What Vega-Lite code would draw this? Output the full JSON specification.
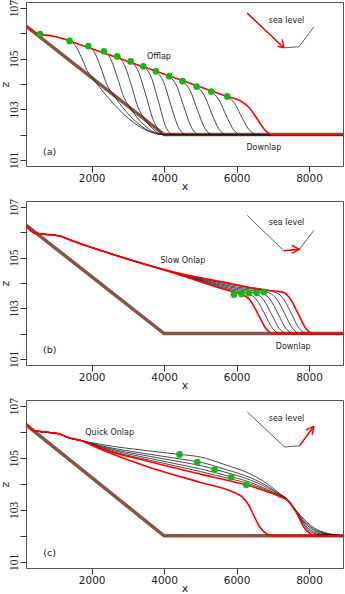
{
"$schema": "https://vega.github.io/schema/vega-lite/v6.json",
"padding": {"left": -2, "top": -2, "right": 0, "bottom": 0},
"spacing": 35,
"bounds": "flush",
"config": {
 "view": {"stroke": "#555", "strokeWidth": 1},
 "axis": {"grid": false, "domain": false, "ticks": true, "tickColor": "#333", "tickWidth": 1, "labelColor": "#222", "titleColor": "#222", "titleFontWeight": "normal"},
 "axisX": {"labelFont": "DejaVu Sans", "labelFontSize": 10.5, "tickSize": 6, "labelPadding": 1, "titleFont": "DejaVu Sans", "titleFontSize": 11, "titlePadding": -3, "format": "d"},
 "axisY": {"labelFont": "Liberation Sans Narrow", "labelFontSize": 11.5, "labelAngle": 270, "labelAlign": "center", "labelBaseline": "alphabetic", "tickSize": 6, "labelPadding": 2.5, "titleFont": "DejaVu Sans", "titleFontSize": 11, "titlePadding": -2},
 "text": {"font": "DejaVu Sans", "color": "#222"}
},
"datasets": {
"L": [
{"p":"a","k":"base","id":"a0","x":188,"z":106.29},{"p":"a","k":"base","id":"a0","x":4000,"z":102},{"p":"a","k":"base","id":"a0","x":8938,"z":102},
{"p":"a","k":"blk","id":"a2","x":1393,"z":105.70},{"p":"a","k":"blk","id":"a2","x":1555,"z":105.505},{"p":"a","k":"blk","id":"a2","x":1718,"z":105.051},{"p":"a","k":"blk","id":"a2","x":1880,"z":104.523},{"p":"a","k":"blk","id":"a2","x":2043,"z":104.202},{"p":"a","k":"blk","id":"a2","x":4000,"z":102},{"p":"a","k":"blk","id":"a2","x":8938,"z":102},
{"p":"a","k":"blk","id":"a3","x":1908,"z":105.50},{"p":"a","k":"blk","id":"a3","x":2080,"z":105.25},{"p":"a","k":"blk","id":"a3","x":2253,"z":104.645},{"p":"a","k":"blk","id":"a3","x":2425,"z":103.962},{"p":"a","k":"blk","id":"a3","x":2598,"z":103.577},{"p":"a","k":"blk","id":"a3","x":4000,"z":102},{"p":"a","k":"blk","id":"a3","x":8938,"z":102},
{"p":"a","k":"blk","id":"a4","x":2340,"z":105.29},{"p":"a","k":"blk","id":"a4","x":2522,"z":104.998},{"p":"a","k":"blk","id":"a4","x":2705,"z":104.282},{"p":"a","k":"blk","id":"a4","x":2887,"z":103.481},{"p":"a","k":"blk","id":"a4","x":3070,"z":103.046},{"p":"a","k":"blk","id":"a4","x":4000,"z":102},{"p":"a","k":"blk","id":"a4","x":8938,"z":102},
{"p":"a","k":"blk","id":"a5","x":2708,"z":105.09},{"p":"a","k":"blk","id":"a5","x":2900,"z":104.765},{"p":"a","k":"blk","id":"a5","x":3093,"z":103.958},{"p":"a","k":"blk","id":"a5","x":3285,"z":103.063},{"p":"a","k":"blk","id":"a5","x":3478,"z":102.587},{"p":"a","k":"blk","id":"a5","x":4000,"z":102},{"p":"a","k":"blk","id":"a5","x":8938,"z":102},
{"p":"a","k":"blk","id":"a6","x":3076,"z":104.89},{"p":"a","k":"blk","id":"a6","x":3278,"z":104.531},{"p":"a","k":"blk","id":"a6","x":3481,"z":103.635},{"p":"a","k":"blk","id":"a6","x":3683,"z":102.646},{"p":"a","k":"blk","id":"a6","x":3886,"z":102.128},{"p":"a","k":"blk","id":"a6","x":4000,"z":102},{"p":"a","k":"blk","id":"a6","x":8938,"z":102},
{"p":"a","k":"blk","id":"a7","x":3425,"z":104.70},{"p":"a","k":"blk","id":"a7","x":3632,"z":104.312},{"p":"a","k":"blk","id":"a7","x":3840,"z":103.336},{"p":"a","k":"blk","id":"a7","x":4047,"z":102.310},{"p":"a","k":"blk","id":"a7","x":4255,"z":102},{"p":"a","k":"blk","id":"a7","x":8938,"z":102},
{"p":"a","k":"blk","id":"a8","x":3775,"z":104.50},{"p":"a","k":"blk","id":"a8","x":3982,"z":104.087},{"p":"a","k":"blk","id":"a8","x":4190,"z":103.146},{"p":"a","k":"blk","id":"a8","x":4397,"z":102.284},{"p":"a","k":"blk","id":"a8","x":4605,"z":102},{"p":"a","k":"blk","id":"a8","x":8938,"z":102},
{"p":"a","k":"blk","id":"a9","x":4142,"z":104.31},{"p":"a","k":"blk","id":"a9","x":4349,"z":103.919},{"p":"a","k":"blk","id":"a9","x":4557,"z":103.051},{"p":"a","k":"blk","id":"a9","x":4764,"z":102.260},{"p":"a","k":"blk","id":"a9","x":4972,"z":102},{"p":"a","k":"blk","id":"a9","x":8938,"z":102},
{"p":"a","k":"blk","id":"a10","x":4510,"z":104.11},{"p":"a","k":"blk","id":"a10","x":4717,"z":103.745},{"p":"a","k":"blk","id":"a10","x":4925,"z":102.951},{"p":"a","k":"blk","id":"a10","x":5132,"z":102.234},{"p":"a","k":"blk","id":"a10","x":5340,"z":102},{"p":"a","k":"blk","id":"a10","x":8938,"z":102},
{"p":"a","k":"blk","id":"a11","x":4897,"z":103.90},{"p":"a","k":"blk","id":"a11","x":5104,"z":103.563},{"p":"a","k":"blk","id":"a11","x":5312,"z":102.846},{"p":"a","k":"blk","id":"a11","x":5519,"z":102.206},{"p":"a","k":"blk","id":"a11","x":5727,"z":102},{"p":"a","k":"blk","id":"a11","x":8938,"z":102},
{"p":"a","k":"blk","id":"a12","x":5301,"z":103.70},{"p":"a","k":"blk","id":"a12","x":5508,"z":103.389},{"p":"a","k":"blk","id":"a12","x":5716,"z":102.746},{"p":"a","k":"blk","id":"a12","x":5923,"z":102.180},{"p":"a","k":"blk","id":"a12","x":6131,"z":102},{"p":"a","k":"blk","id":"a12","x":8938,"z":102},
{"p":"a","k":"blk","id":"a13","x":5743,"z":103.51},{"p":"a","k":"blk","id":"a13","x":5950,"z":103.223},{"p":"a","k":"blk","id":"a13","x":6158,"z":102.651},{"p":"a","k":"blk","id":"a13","x":6365,"z":102.156},{"p":"a","k":"blk","id":"a13","x":6573,"z":102},{"p":"a","k":"blk","id":"a13","x":8938,"z":102},
{"p":"a","k":"red","id":"ar","x":188,"z":106.29},{"p":"a","k":"red","id":"ar","x":574,"z":105.97},{"p":"a","k":"red","id":"ar","x":960,"z":105.89},{"p":"a","k":"red","id":"ar","x":1236,"z":105.78},{"p":"a","k":"red","id":"ar","x":1393,"z":105.70},{"p":"a","k":"red","id":"ar","x":3000,"z":104.89},{"p":"a","k":"red","id":"ar","x":4500,"z":104.14},{"p":"a","k":"red","id":"ar","x":5743,"z":103.51},{"p":"a","k":"red","id":"ar","x":6110,"z":103.33},{"p":"a","k":"red","id":"ar","x":6340,"z":103.08},{"p":"a","k":"red","id":"ar","x":6571,"z":102.62},{"p":"a","k":"red","id":"ar","x":6753,"z":102.23},{"p":"a","k":"red","id":"ar","x":6985,"z":102.0},{"p":"a","k":"red","id":"ar","x":8938,"z":102},
{"p":"a","k":"sea","id":"as","x":6295,"z":106.80},{"p":"a","k":"sea","id":"as","x":7305,"z":105.43},{"p":"a","k":"sea","id":"as","x":7719,"z":105.47},{"p":"a","k":"sea","id":"as","x":8133,"z":106.25},
{"p":"a","k":"arr","id":"aa1","x":6295,"z":106.80},{"p":"a","k":"arr","id":"aa1","x":7305,"z":105.43},
{"p":"a","k":"arr","id":"aa2","x":7139,"z":105.49},{"p":"a","k":"arr","id":"aa2","x":7305,"z":105.43},
{"p":"a","k":"arr","id":"aa3","x":7261,"z":105.76},{"p":"a","k":"arr","id":"aa3","x":7305,"z":105.43},

{"p":"b","k":"base","id":"b0","x":188,"z":106.29},{"p":"b","k":"base","id":"b0","x":4000,"z":102},{"p":"b","k":"base","id":"b0","x":8938,"z":102},
{"p":"b","k":"red","id":"b0r","x":188,"z":106.28},{"p":"b","k":"red","id":"b0r","x":408,"z":105.98},{"p":"b","k":"red","id":"b0r","x":1145,"z":105.85},{"p":"b","k":"red","id":"b0r","x":1374,"z":105.72},{"p":"b","k":"red","id":"b0r","x":2524,"z":105.16},{"p":"b","k":"red","id":"b0r","x":4455,"z":104.31},{"p":"b","k":"red","id":"b0r","x":5834,"z":103.68},{"p":"b","k":"red","id":"b0r","x":6150,"z":103.56},{"p":"b","k":"red","id":"b0r","x":6370,"z":103.326},{"p":"b","k":"red","id":"b0r","x":6590,"z":102.78},{"p":"b","k":"red","id":"b0r","x":6810,"z":102.203},{"p":"b","k":"red","id":"b0r","x":7030,"z":102},{"p":"b","k":"red","id":"b0r","x":8938,"z":102},
{"p":"b","k":"blk","id":"b1","x":188,"z":106.28},{"p":"b","k":"blk","id":"b1","x":408,"z":105.98},{"p":"b","k":"blk","id":"b1","x":1145,"z":105.85},{"p":"b","k":"blk","id":"b1","x":1374,"z":105.72},{"p":"b","k":"blk","id":"b1","x":2524,"z":105.16},{"p":"b","k":"blk","id":"b1","x":4455,"z":104.32},{"p":"b","k":"blk","id":"b1","x":5834,"z":103.73},{"p":"b","k":"blk","id":"b1","x":6333,"z":103.575},{"p":"b","k":"blk","id":"b1","x":6553,"z":103.339},{"p":"b","k":"blk","id":"b1","x":6773,"z":102.788},{"p":"b","k":"blk","id":"b1","x":6993,"z":102.205},{"p":"b","k":"blk","id":"b1","x":7213,"z":102},{"p":"b","k":"blk","id":"b1","x":8938,"z":102},
{"p":"b","k":"blk","id":"b2","x":188,"z":106.28},{"p":"b","k":"blk","id":"b2","x":408,"z":105.98},{"p":"b","k":"blk","id":"b2","x":1145,"z":105.85},{"p":"b","k":"blk","id":"b2","x":1374,"z":105.72},{"p":"b","k":"blk","id":"b2","x":2524,"z":105.16},{"p":"b","k":"blk","id":"b2","x":4455,"z":104.33},{"p":"b","k":"blk","id":"b2","x":5834,"z":103.78},{"p":"b","k":"blk","id":"b2","x":6516,"z":103.59},{"p":"b","k":"blk","id":"b2","x":6736,"z":103.352},{"p":"b","k":"blk","id":"b2","x":6956,"z":102.795},{"p":"b","k":"blk","id":"b2","x":7176,"z":102.207},{"p":"b","k":"blk","id":"b2","x":7396,"z":102},{"p":"b","k":"blk","id":"b2","x":8938,"z":102},
{"p":"b","k":"blk","id":"b3","x":188,"z":106.28},{"p":"b","k":"blk","id":"b3","x":408,"z":105.98},{"p":"b","k":"blk","id":"b3","x":1145,"z":105.85},{"p":"b","k":"blk","id":"b3","x":1374,"z":105.72},{"p":"b","k":"blk","id":"b3","x":2524,"z":105.16},{"p":"b","k":"blk","id":"b3","x":4455,"z":104.34},{"p":"b","k":"blk","id":"b3","x":5834,"z":103.83},{"p":"b","k":"blk","id":"b3","x":6699,"z":103.605},{"p":"b","k":"blk","id":"b3","x":6919,"z":103.364},{"p":"b","k":"blk","id":"b3","x":7139,"z":102.803},{"p":"b","k":"blk","id":"b3","x":7359,"z":102.209},{"p":"b","k":"blk","id":"b3","x":7579,"z":102},{"p":"b","k":"blk","id":"b3","x":8938,"z":102},
{"p":"b","k":"blk","id":"b4","x":188,"z":106.28},{"p":"b","k":"blk","id":"b4","x":408,"z":105.98},{"p":"b","k":"blk","id":"b4","x":1145,"z":105.85},{"p":"b","k":"blk","id":"b4","x":1374,"z":105.72},{"p":"b","k":"blk","id":"b4","x":2524,"z":105.16},{"p":"b","k":"blk","id":"b4","x":4455,"z":104.35},{"p":"b","k":"blk","id":"b4","x":5834,"z":103.88},{"p":"b","k":"blk","id":"b4","x":6882,"z":103.62},{"p":"b","k":"blk","id":"b4","x":7102,"z":103.377},{"p":"b","k":"blk","id":"b4","x":7322,"z":102.81},{"p":"b","k":"blk","id":"b4","x":7542,"z":102.211},{"p":"b","k":"blk","id":"b4","x":7762,"z":102},{"p":"b","k":"blk","id":"b4","x":8938,"z":102},
{"p":"b","k":"blk","id":"b5","x":188,"z":106.28},{"p":"b","k":"blk","id":"b5","x":408,"z":105.98},{"p":"b","k":"blk","id":"b5","x":1145,"z":105.85},{"p":"b","k":"blk","id":"b5","x":1374,"z":105.72},{"p":"b","k":"blk","id":"b5","x":2524,"z":105.16},{"p":"b","k":"blk","id":"b5","x":4455,"z":104.36},{"p":"b","k":"blk","id":"b5","x":5834,"z":103.93},{"p":"b","k":"blk","id":"b5","x":7065,"z":103.635},{"p":"b","k":"blk","id":"b5","x":7285,"z":103.39},{"p":"b","k":"blk","id":"b5","x":7505,"z":102.818},{"p":"b","k":"blk","id":"b5","x":7725,"z":102.213},{"p":"b","k":"blk","id":"b5","x":7945,"z":102},{"p":"b","k":"blk","id":"b5","x":8938,"z":102},
{"p":"b","k":"red","id":"b6r","x":188,"z":106.28},{"p":"b","k":"red","id":"b6r","x":408,"z":105.98},{"p":"b","k":"red","id":"b6r","x":1145,"z":105.85},{"p":"b","k":"red","id":"b6r","x":1374,"z":105.72},{"p":"b","k":"red","id":"b6r","x":2524,"z":105.16},{"p":"b","k":"red","id":"b6r","x":4455,"z":104.37},{"p":"b","k":"red","id":"b6r","x":5834,"z":103.98},{"p":"b","k":"red","id":"b6r","x":6754,"z":103.72},{"p":"b","k":"red","id":"b6r","x":7248,"z":103.65},{"p":"b","k":"red","id":"b6r","x":7468,"z":103.403},{"p":"b","k":"red","id":"b6r","x":7688,"z":102.825},{"p":"b","k":"red","id":"b6r","x":7908,"z":102.215},{"p":"b","k":"red","id":"b6r","x":8128,"z":102},{"p":"b","k":"red","id":"b6r","x":8938,"z":102},
{"p":"b","k":"sea","id":"bs","x":6295,"z":106.67},{"p":"b","k":"sea","id":"bs","x":7305,"z":105.27},{"p":"b","k":"sea","id":"bs","x":7738,"z":105.33},{"p":"b","k":"sea","id":"bs","x":8133,"z":106.08},
{"p":"b","k":"arr","id":"ba1","x":7305,"z":105.27},{"p":"b","k":"arr","id":"ba1","x":7738,"z":105.33},
{"p":"b","k":"arr","id":"ba2","x":7520,"z":105.49},{"p":"b","k":"arr","id":"ba2","x":7738,"z":105.33},
{"p":"b","k":"arr","id":"ba3","x":7520,"z":105.17},{"p":"b","k":"arr","id":"ba3","x":7738,"z":105.33},

{"p":"c","k":"base","id":"c0","x":188,"z":106.29},{"p":"c","k":"base","id":"c0","x":4000,"z":102},{"p":"c","k":"base","id":"c0","x":8938,"z":102},
{"p":"c","k":"red","id":"c0r","x":188,"z":106.34},{"p":"c","k":"red","id":"c0r","x":408,"z":106.06},{"p":"c","k":"red","id":"c0r","x":870,"z":105.98},{"p":"c","k":"red","id":"c0r","x":1145,"z":105.92},{"p":"c","k":"red","id":"c0r","x":1328,"z":105.80},{"p":"c","k":"red","id":"c0r","x":1700,"z":105.68},{"p":"c","k":"red","id":"c0r","x":2248,"z":105.34},{"p":"c","k":"red","id":"c0r","x":3628,"z":104.63},{"p":"c","k":"red","id":"c0r","x":5007,"z":104.06},{"p":"c","k":"red","id":"c0r","x":5926,"z":103.68},{"p":"c","k":"red","id":"c0r","x":6150,"z":103.50},{"p":"c","k":"red","id":"c0r","x":6330,"z":103.20},{"p":"c","k":"red","id":"c0r","x":6478,"z":102.78},{"p":"c","k":"red","id":"c0r","x":6662,"z":102.30},{"p":"c","k":"red","id":"c0r","x":6850,"z":102.06},{"p":"c","k":"red","id":"c0r","x":7029,"z":102.0},{"p":"c","k":"red","id":"c0r","x":8938,"z":102},
{"p":"c","k":"red","id":"c6r","x":188,"z":106.34},{"p":"c","k":"red","id":"c6r","x":408,"z":106.06},{"p":"c","k":"red","id":"c6r","x":870,"z":105.98},{"p":"c","k":"red","id":"c6r","x":1145,"z":105.92},{"p":"c","k":"red","id":"c6r","x":1328,"z":105.80},{"p":"c","k":"red","id":"c6r","x":1700,"z":105.68},{"p":"c","k":"red","id":"c6r","x":2248,"z":105.37},{"p":"c","k":"red","id":"c6r","x":3628,"z":104.85},{"p":"c","k":"red","id":"c6r","x":5007,"z":104.38},{"p":"c","k":"red","id":"c6r","x":5926,"z":104.08},{"p":"c","k":"red","id":"c6r","x":6386,"z":103.92},{"p":"c","k":"red","id":"c6r","x":6846,"z":103.70},{"p":"c","k":"red","id":"c6r","x":7214,"z":103.50},{"p":"c","k":"red","id":"c6r","x":7398,"z":103.38},{"p":"c","k":"red","id":"c6r","x":7490,"z":103.23},{"p":"c","k":"red","id":"c6r","x":7674,"z":102.84},{"p":"c","k":"red","id":"c6r","x":7857,"z":102.33},{"p":"c","k":"red","id":"c6r","x":8041,"z":102.08},{"p":"c","k":"red","id":"c6r","x":8225,"z":102.0},{"p":"c","k":"red","id":"c6r","x":8938,"z":102},
{"p":"c","k":"blk","id":"c1","x":188,"z":106.34},{"p":"c","k":"blk","id":"c1","x":408,"z":106.06},{"p":"c","k":"blk","id":"c1","x":870,"z":105.98},{"p":"c","k":"blk","id":"c1","x":1145,"z":105.92},{"p":"c","k":"blk","id":"c1","x":1328,"z":105.80},{"p":"c","k":"blk","id":"c1","x":1700,"z":105.68},{"p":"c","k":"blk","id":"c1","x":2248,"z":105.53},{"p":"c","k":"blk","id":"c1","x":3628,"z":105.27},{"p":"c","k":"blk","id":"c1","x":4428,"z":105.14},{"p":"c","k":"blk","id":"c1","x":5007,"z":105.04},{"p":"c","k":"blk","id":"c1","x":5650,"z":104.76},{"p":"c","k":"blk","id":"c1","x":6386,"z":104.38},{"p":"c","k":"blk","id":"c1","x":6846,"z":104.01},{"p":"c","k":"blk","id":"c1","x":7214,"z":103.61},{"p":"c","k":"blk","id":"c1","x":7398,"z":103.42},{"p":"c","k":"blk","id":"c1","x":7581,"z":103.10},{"p":"c","k":"blk","id":"c1","x":7766,"z":102.78},{"p":"c","k":"blk","id":"c1","x":7950,"z":102.52},{"p":"c","k":"blk","id":"c1","x":8133,"z":102.31},{"p":"c","k":"blk","id":"c1","x":8317,"z":102.18},{"p":"c","k":"blk","id":"c1","x":8500,"z":102.10},{"p":"c","k":"blk","id":"c1","x":8684,"z":102.05},{"p":"c","k":"blk","id":"c1","x":8938,"z":102.0},
{"p":"c","k":"blk","id":"c2","x":188,"z":106.34},{"p":"c","k":"blk","id":"c2","x":408,"z":106.06},{"p":"c","k":"blk","id":"c2","x":870,"z":105.98},{"p":"c","k":"blk","id":"c2","x":1145,"z":105.92},{"p":"c","k":"blk","id":"c2","x":1328,"z":105.80},{"p":"c","k":"blk","id":"c2","x":1700,"z":105.68},{"p":"c","k":"blk","id":"c2","x":2248,"z":105.48},{"p":"c","k":"blk","id":"c2","x":3628,"z":105.14},{"p":"c","k":"blk","id":"c2","x":4428,"z":104.97},{"p":"c","k":"blk","id":"c2","x":5007,"z":104.84},{"p":"c","k":"blk","id":"c2","x":5650,"z":104.58},{"p":"c","k":"blk","id":"c2","x":6386,"z":104.24},{"p":"c","k":"blk","id":"c2","x":6846,"z":103.92},{"p":"c","k":"blk","id":"c2","x":7214,"z":103.58},{"p":"c","k":"blk","id":"c2","x":7398,"z":103.41},{"p":"c","k":"blk","id":"c2","x":7581,"z":103.09},{"p":"c","k":"blk","id":"c2","x":7766,"z":102.74},{"p":"c","k":"blk","id":"c2","x":7950,"z":102.46},{"p":"c","k":"blk","id":"c2","x":8133,"z":102.26},{"p":"c","k":"blk","id":"c2","x":8317,"z":102.14},{"p":"c","k":"blk","id":"c2","x":8500,"z":102.08},{"p":"c","k":"blk","id":"c2","x":8684,"z":102.04},{"p":"c","k":"blk","id":"c2","x":8938,"z":102.0},
{"p":"c","k":"blk","id":"c3","x":188,"z":106.34},{"p":"c","k":"blk","id":"c3","x":408,"z":106.06},{"p":"c","k":"blk","id":"c3","x":870,"z":105.98},{"p":"c","k":"blk","id":"c3","x":1145,"z":105.92},{"p":"c","k":"blk","id":"c3","x":1328,"z":105.80},{"p":"c","k":"blk","id":"c3","x":1700,"z":105.68},{"p":"c","k":"blk","id":"c3","x":2248,"z":105.45},{"p":"c","k":"blk","id":"c3","x":3628,"z":105.06},{"p":"c","k":"blk","id":"c3","x":4428,"z":104.86},{"p":"c","k":"blk","id":"c3","x":5007,"z":104.71},{"p":"c","k":"blk","id":"c3","x":5650,"z":104.47},{"p":"c","k":"blk","id":"c3","x":6386,"z":104.15},{"p":"c","k":"blk","id":"c3","x":6846,"z":103.86},{"p":"c","k":"blk","id":"c3","x":7214,"z":103.56},{"p":"c","k":"blk","id":"c3","x":7398,"z":103.41},{"p":"c","k":"blk","id":"c3","x":7581,"z":103.08},{"p":"c","k":"blk","id":"c3","x":7766,"z":102.70},{"p":"c","k":"blk","id":"c3","x":7950,"z":102.40},{"p":"c","k":"blk","id":"c3","x":8133,"z":102.21},{"p":"c","k":"blk","id":"c3","x":8317,"z":102.11},{"p":"c","k":"blk","id":"c3","x":8500,"z":102.06},{"p":"c","k":"blk","id":"c3","x":8684,"z":102.03},{"p":"c","k":"blk","id":"c3","x":8938,"z":102.0},
{"p":"c","k":"blk","id":"c4","x":188,"z":106.34},{"p":"c","k":"blk","id":"c4","x":408,"z":106.06},{"p":"c","k":"blk","id":"c4","x":870,"z":105.98},{"p":"c","k":"blk","id":"c4","x":1145,"z":105.92},{"p":"c","k":"blk","id":"c4","x":1328,"z":105.80},{"p":"c","k":"blk","id":"c4","x":1700,"z":105.68},{"p":"c","k":"blk","id":"c4","x":2248,"z":105.42},{"p":"c","k":"blk","id":"c4","x":3628,"z":104.98},{"p":"c","k":"blk","id":"c4","x":4428,"z":104.75},{"p":"c","k":"blk","id":"c4","x":5007,"z":104.58},{"p":"c","k":"blk","id":"c4","x":5650,"z":104.35},{"p":"c","k":"blk","id":"c4","x":6386,"z":104.06},{"p":"c","k":"blk","id":"c4","x":6846,"z":103.79},{"p":"c","k":"blk","id":"c4","x":7214,"z":103.53},{"p":"c","k":"blk","id":"c4","x":7398,"z":103.41},{"p":"c","k":"blk","id":"c4","x":7581,"z":103.06},{"p":"c","k":"blk","id":"c4","x":7766,"z":102.67},{"p":"c","k":"blk","id":"c4","x":7950,"z":102.33},{"p":"c","k":"blk","id":"c4","x":8133,"z":102.15},{"p":"c","k":"blk","id":"c4","x":8317,"z":102.07},{"p":"c","k":"blk","id":"c4","x":8500,"z":102.04},{"p":"c","k":"blk","id":"c4","x":8684,"z":102.02},{"p":"c","k":"blk","id":"c4","x":8938,"z":102.0},
{"p":"c","k":"blk","id":"c5","x":188,"z":106.34},{"p":"c","k":"blk","id":"c5","x":408,"z":106.06},{"p":"c","k":"blk","id":"c5","x":870,"z":105.98},{"p":"c","k":"blk","id":"c5","x":1145,"z":105.92},{"p":"c","k":"blk","id":"c5","x":1328,"z":105.80},{"p":"c","k":"blk","id":"c5","x":1700,"z":105.68},{"p":"c","k":"blk","id":"c5","x":2248,"z":105.39},{"p":"c","k":"blk","id":"c5","x":3628,"z":104.91},{"p":"c","k":"blk","id":"c5","x":4428,"z":104.66},{"p":"c","k":"blk","id":"c5","x":5007,"z":104.48},{"p":"c","k":"blk","id":"c5","x":5650,"z":104.26},{"p":"c","k":"blk","id":"c5","x":6386,"z":103.99},{"p":"c","k":"blk","id":"c5","x":6846,"z":103.75},{"p":"c","k":"blk","id":"c5","x":7214,"z":103.52},{"p":"c","k":"blk","id":"c5","x":7398,"z":103.40},{"p":"c","k":"blk","id":"c5","x":7581,"z":103.05},{"p":"c","k":"blk","id":"c5","x":7766,"z":102.63},{"p":"c","k":"blk","id":"c5","x":7950,"z":102.27},{"p":"c","k":"blk","id":"c5","x":8133,"z":102.10},{"p":"c","k":"blk","id":"c5","x":8317,"z":102.04},{"p":"c","k":"blk","id":"c5","x":8500,"z":102.02},{"p":"c","k":"blk","id":"c5","x":8684,"z":102.01},{"p":"c","k":"blk","id":"c5","x":8938,"z":102.0},
{"p":"c","k":"sea","id":"cs","x":6295,"z":106.78},{"p":"c","k":"sea","id":"cs","x":7324,"z":105.43},{"p":"c","k":"sea","id":"cs","x":7738,"z":105.47},{"p":"c","k":"sea","id":"cs","x":8133,"z":106.23},
{"p":"c","k":"arr","id":"ca1","x":7738,"z":105.47},{"p":"c","k":"arr","id":"ca1","x":8133,"z":106.23},
{"p":"c","k":"arr","id":"ca2","x":8088,"z":105.90},{"p":"c","k":"arr","id":"ca2","x":8133,"z":106.23},
{"p":"c","k":"arr","id":"ca3","x":7912,"z":106.08},{"p":"c","k":"arr","id":"ca3","x":8133,"z":106.23}
],
"D": [
{"p":"a","x":574,"z":105.97},{"p":"a","x":1393,"z":105.70},{"p":"a","x":1908,"z":105.50},{"p":"a","x":2340,"z":105.29},{"p":"a","x":2708,"z":105.09},{"p":"a","x":3076,"z":104.89},{"p":"a","x":3425,"z":104.70},{"p":"a","x":3775,"z":104.50},{"p":"a","x":4142,"z":104.31},{"p":"a","x":4510,"z":104.11},{"p":"a","x":4897,"z":103.90},{"p":"a","x":5301,"z":103.70},{"p":"a","x":5743,"z":103.51},
{"p":"b","x":5926,"z":103.55},{"p":"b","x":6138,"z":103.57},{"p":"b","x":6340,"z":103.60},{"p":"b","x":6552,"z":103.61},{"p":"b","x":6754,"z":103.64},
{"p":"c","x":4428,"z":105.14},{"p":"c","x":4916,"z":104.84},{"p":"c","x":5393,"z":104.56},{"p":"c","x":5854,"z":104.26},{"p":"c","x":6268,"z":103.97}
],
"T": [
{"p":"a","x":3857,"z":105.06,"label":"Offlap"},{"p":"a","x":6754,"z":101.48,"label":"Downlap"},{"p":"a","x":7379,"z":106.50,"label":"sea level"},
{"p":"b","x":4519,"z":104.88,"label":"Slow Onlap"},{"p":"b","x":7563,"z":101.49,"label":"Downlap"},{"p":"b","x":7379,"z":106.37,"label":"sea level"},
{"p":"c","x":2497,"z":105.95,"label":"Quick Onlap"},{"p":"c","x":7379,"z":106.49,"label":"sea level"}
],
"P": [
{"p":"a","x":841,"z":101.3,"label":"(a)"},{"p":"b","x":841,"z":101.35,"label":"(b)"},{"p":"c","x":841,"z":101.35,"label":"(c)"}
]
},
"vconcat": [
{
 "width": 317, "height": 164,
 "encoding": {
  "x": {"field": "x", "type": "quantitative", "scale": {"domain": [188, 8938], "nice": false, "zero": false}, "axis": {"values": [2000, 4000, 6000, 8000], "title": "x"}},
  "y": {"field": "z", "type": "quantitative", "scale": {"domain": [100.76, 107.24], "nice": false, "zero": false}, "axis": {"values": [101, 102, 103, 104, 105, 106, 107], "labelExpr": "datum.value % 2 == 1 ? datum.label : ''", "title": "z"}}
 },
 "layer": [
  {"data": {"name": "L"}, "transform": [{"filter": "datum.p == 'a' && datum.k == 'base'"}], "mark": {"type": "line", "color": "#8a5444", "strokeWidth": 3.5, "clip": true}, "encoding": {"detail": {"field": "id"}}},
  {"data": {"name": "L"}, "transform": [{"filter": "datum.p == 'a' && datum.k == 'blk'"}], "mark": {"type": "line", "color": "#1a1a1a", "strokeWidth": 0.8, "interpolate": "monotone", "clip": true}, "encoding": {"detail": {"field": "id"}}},
  {"data": {"name": "L"}, "transform": [{"filter": "datum.p == 'a' && datum.k == 'red'"}], "mark": {"type": "line", "color": "#ff0000", "strokeWidth": 1.6, "interpolate": "monotone", "clip": true}, "encoding": {"detail": {"field": "id"}}},
  {"data": {"name": "L"}, "transform": [{"filter": "datum.p == 'a' && datum.k == 'sea'"}], "mark": {"type": "line", "color": "#333333", "strokeWidth": 0.8}, "encoding": {"detail": {"field": "id"}}},
  {"data": {"name": "L"}, "transform": [{"filter": "datum.p == 'a' && datum.k == 'arr'"}], "mark": {"type": "line", "color": "#ff0000", "strokeWidth": 1.5}, "encoding": {"detail": {"field": "id"}}},
  {"data": {"name": "D"}, "transform": [{"filter": "datum.p == 'a'"}], "mark": {"type": "point", "filled": true, "color": "#14b814", "size": 45, "opacity": 1}},
  {"data": {"name": "T"}, "transform": [{"filter": "datum.p == 'a'"}], "mark": {"type": "text", "fontSize": 8, "align": "center", "baseline": "middle"}, "encoding": {"text": {"field": "label"}}},
  {"data": {"name": "P"}, "transform": [{"filter": "datum.p == 'a'"}], "mark": {"type": "text", "fontSize": 9.5, "align": "center", "baseline": "middle"}, "encoding": {"text": {"field": "label"}}}
 ]
},
{
 "width": 317, "height": 164,
 "encoding": {
  "x": {"field": "x", "type": "quantitative", "scale": {"domain": [188, 8938], "nice": false, "zero": false}, "axis": {"values": [2000, 4000, 6000, 8000], "title": "x"}},
  "y": {"field": "z", "type": "quantitative", "scale": {"domain": [100.76, 107.24], "nice": false, "zero": false}, "axis": {"values": [101, 102, 103, 104, 105, 106, 107], "labelExpr": "datum.value % 2 == 1 ? datum.label : ''", "title": "z"}}
 },
 "layer": [
  {"data": {"name": "L"}, "transform": [{"filter": "datum.p == 'b' && datum.k == 'base'"}], "mark": {"type": "line", "color": "#8a5444", "strokeWidth": 3.5, "clip": true}, "encoding": {"detail": {"field": "id"}}},
  {"data": {"name": "L"}, "transform": [{"filter": "datum.p == 'b' && datum.k == 'blk'"}], "mark": {"type": "line", "color": "#1a1a1a", "strokeWidth": 0.8, "interpolate": "monotone", "clip": true}, "encoding": {"detail": {"field": "id"}}},
  {"data": {"name": "L"}, "transform": [{"filter": "datum.p == 'b' && datum.k == 'red'"}], "mark": {"type": "line", "color": "#ff0000", "strokeWidth": 1.6, "interpolate": "monotone", "clip": true}, "encoding": {"detail": {"field": "id"}}},
  {"data": {"name": "L"}, "transform": [{"filter": "datum.p == 'b' && datum.k == 'sea'"}], "mark": {"type": "line", "color": "#333333", "strokeWidth": 0.8}, "encoding": {"detail": {"field": "id"}}},
  {"data": {"name": "L"}, "transform": [{"filter": "datum.p == 'b' && datum.k == 'arr'"}], "mark": {"type": "line", "color": "#ff0000", "strokeWidth": 1.5}, "encoding": {"detail": {"field": "id"}}},
  {"data": {"name": "D"}, "transform": [{"filter": "datum.p == 'b'"}], "mark": {"type": "point", "filled": true, "color": "#14b814", "size": 45, "opacity": 1}},
  {"data": {"name": "T"}, "transform": [{"filter": "datum.p == 'b'"}], "mark": {"type": "text", "fontSize": 8, "align": "center", "baseline": "middle"}, "encoding": {"text": {"field": "label"}}},
  {"data": {"name": "P"}, "transform": [{"filter": "datum.p == 'b'"}], "mark": {"type": "text", "fontSize": 9.5, "align": "center", "baseline": "middle"}, "encoding": {"text": {"field": "label"}}}
 ]
},
{
 "width": 317, "height": 168,
 "encoding": {
  "x": {"field": "x", "type": "quantitative", "scale": {"domain": [188, 8938], "nice": false, "zero": false}, "axis": {"values": [2000, 4000, 6000, 8000], "title": "x"}},
  "y": {"field": "z", "type": "quantitative", "scale": {"domain": [100.76, 107.24], "nice": false, "zero": false}, "axis": {"values": [101, 102, 103, 104, 105, 106, 107], "labelExpr": "datum.value % 2 == 1 ? datum.label : ''", "title": "z"}}
 },
 "layer": [
  {"data": {"name": "L"}, "transform": [{"filter": "datum.p == 'c' && datum.k == 'base'"}], "mark": {"type": "line", "color": "#8a5444", "strokeWidth": 3.5, "clip": true}, "encoding": {"detail": {"field": "id"}}},
  {"data": {"name": "L"}, "transform": [{"filter": "datum.p == 'c' && datum.k == 'blk'"}], "mark": {"type": "line", "color": "#1a1a1a", "strokeWidth": 0.8, "interpolate": "monotone", "clip": true}, "encoding": {"detail": {"field": "id"}}},
  {"data": {"name": "L"}, "transform": [{"filter": "datum.p == 'c' && datum.k == 'red'"}], "mark": {"type": "line", "color": "#ff0000", "strokeWidth": 1.6, "interpolate": "monotone", "clip": true}, "encoding": {"detail": {"field": "id"}}},
  {"data": {"name": "L"}, "transform": [{"filter": "datum.p == 'c' && datum.k == 'sea'"}], "mark": {"type": "line", "color": "#333333", "strokeWidth": 0.8}, "encoding": {"detail": {"field": "id"}}},
  {"data": {"name": "L"}, "transform": [{"filter": "datum.p == 'c' && datum.k == 'arr'"}], "mark": {"type": "line", "color": "#ff0000", "strokeWidth": 1.5}, "encoding": {"detail": {"field": "id"}}},
  {"data": {"name": "D"}, "transform": [{"filter": "datum.p == 'c'"}], "mark": {"type": "point", "filled": true, "color": "#14b814", "size": 45, "opacity": 1}},
  {"data": {"name": "T"}, "transform": [{"filter": "datum.p == 'c'"}], "mark": {"type": "text", "fontSize": 8, "align": "center", "baseline": "middle"}, "encoding": {"text": {"field": "label"}}},
  {"data": {"name": "P"}, "transform": [{"filter": "datum.p == 'c'"}], "mark": {"type": "text", "fontSize": 9.5, "align": "center", "baseline": "middle"}, "encoding": {"text": {"field": "label"}}}
 ]
}
]
}
